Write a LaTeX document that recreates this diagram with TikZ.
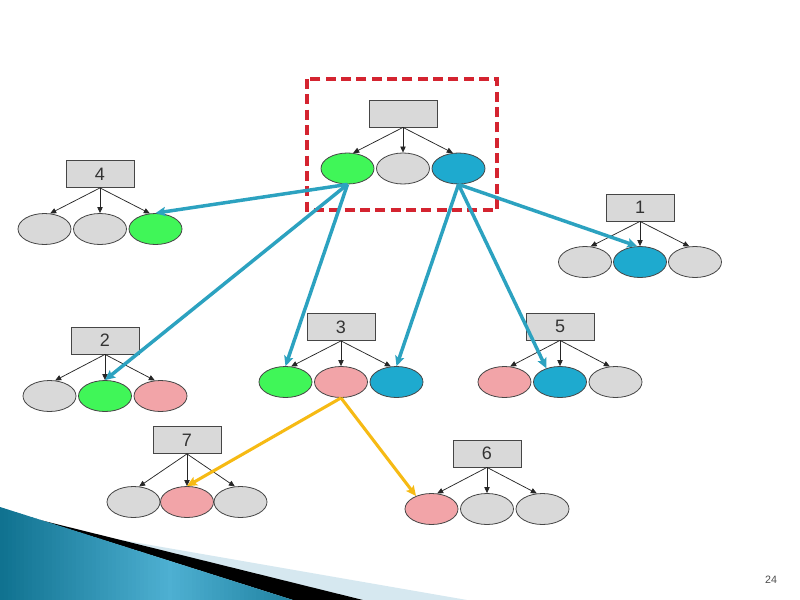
\documentclass[tikz,border=0pt]{standalone}
\usepackage{fontspec}
\setmainfont{Liberation Sans}
\usetikzlibrary{arrows.meta,shapes.geometric}
\definecolor{gfill}{RGB}{217,217,217}
\definecolor{grn}{RGB}{64,246,88}
\definecolor{pnk}{RGB}{242,164,168}
\definecolor{blu}{RGB}{30,170,207}
\definecolor{conn}{RGB}{44,162,192}
\definecolor{ylw}{RGB}{246,186,20}
\definecolor{dred}{RGB}{212,36,48}
\definecolor{edge}{RGB}{70,70,70}
\definecolor{tealdark}{RGB}{16,114,144}
\definecolor{teallight}{RGB}{78,176,210}
\definecolor{pale}{RGB}{214,232,240}
\tikzset{
  lbl/.style={draw=edge, line width=0.6pt, fill=gfill, minimum width=51pt, minimum height=20.25pt, inner sep=0pt, font=\fontsize{13.5}{13.5}\selectfont, text=black!80},
  ell/.style={draw=edge, line width=0.6pt, ellipse, minimum width=39.75pt, minimum height=23.25pt, inner sep=0pt},
  tarrow/.style={draw=black!85, line width=0.55pt, -{Triangle[length=4.5pt,width=4pt]}},
  barrow/.style={draw=conn, line width=2.6pt, -{Stealth[length=7.5pt,width=7pt,inset=1.5pt]}},
  yarrow/.style={draw=ylw, line width=2.3pt, -{Stealth[length=7.5pt,width=7pt,inset=1.5pt]}},
}
\newcommand\drawtree[9]{%
  \node[lbl] (#1r) at (#2,#3) {#5};
  \node[ell,fill=#6] (#1a) at (#2-#9,#4) {};
  \node[ell,fill=#7] (#1b) at (#2,#4) {};
  \node[ell,fill=#8] (#1c) at (#2+#9,#4) {};
  \draw[tarrow] (#1r.south) -- (#1a.70);
  \draw[tarrow] (#1r.south) -- (#1b.north);
  \draw[tarrow] (#1r.south) -- (#1c.110);
}
\begin{document}
\begin{tikzpicture}[x=0.75pt,y=-0.75pt]
\fill[white] (0,0) rectangle (800,600);
\useasboundingbox (0,0) rectangle (800,600);
% bottom-left decoration
\fill[pale] (87,534) -- (467,600) -- (363,600) -- cycle;
\fill[black] (40,520) -- (363,600) -- (293,600) -- cycle;
\begin{scope}
  \clip (0,507) -- (293,600) -- (0,600) -- cycle;
  \foreach \i in {0,...,74}{
    \pgfmathtruncatemacro\p{100-abs(\i-42)*100/42}
    \fill[teallight!\p!tealdark] (\i*4,500) rectangle (\i*4+4.6,600);
  }
\end{scope}
% trees
\drawtree{t0}{403}{113.5}{168.5}{}{grn}{gfill}{blu}{55.5}
\drawtree{t4}{100}{174}{229}{4}{gfill}{gfill}{grn}{55.5}
\drawtree{t1}{640}{207.5}{262}{1}{gfill}{blu}{gfill}{55}
\drawtree{t2}{105}{340.5}{396}{2}{gfill}{grn}{pnk}{55.5}
\drawtree{t3}{341}{327}{382}{3}{grn}{pnk}{blu}{55.5}
\drawtree{t5}{560}{326.5}{382}{5}{pnk}{blu}{gfill}{55.5}
\drawtree{t7}{187}{440}{502}{7}{gfill}{pnk}{gfill}{53.5}
\drawtree{t6}{487}{453.5}{509}{6}{pnk}{gfill}{gfill}{55.5}
% dashed box
\draw[dred, line width=3pt, dash pattern=on 7.5pt off 4pt] (307,79) rectangle (497,210);
% blue connectors
\draw[barrow] (t0a.south) -- (t4c.north);
\draw[barrow] (t0a.south) -- (t2b.north);
\draw[barrow] (t0a.south) -- (t3a.north);
\draw[barrow] (t0c.south) -- (t3c.north);
\draw[barrow] (t0c.south) -- (t5b.135);
\draw[barrow] (t0c.south) -- (t1b.100);
% yellow connectors
\draw[yarrow] (t3b.south) -- (t7b.north);
\draw[yarrow] (t3b.south) -- (t6a.140);
% page number
\node[font=\fontsize{8}{8}\selectfont, text=black!70] (pg) at (771,580) {24};
\end{tikzpicture}
\end{document}
